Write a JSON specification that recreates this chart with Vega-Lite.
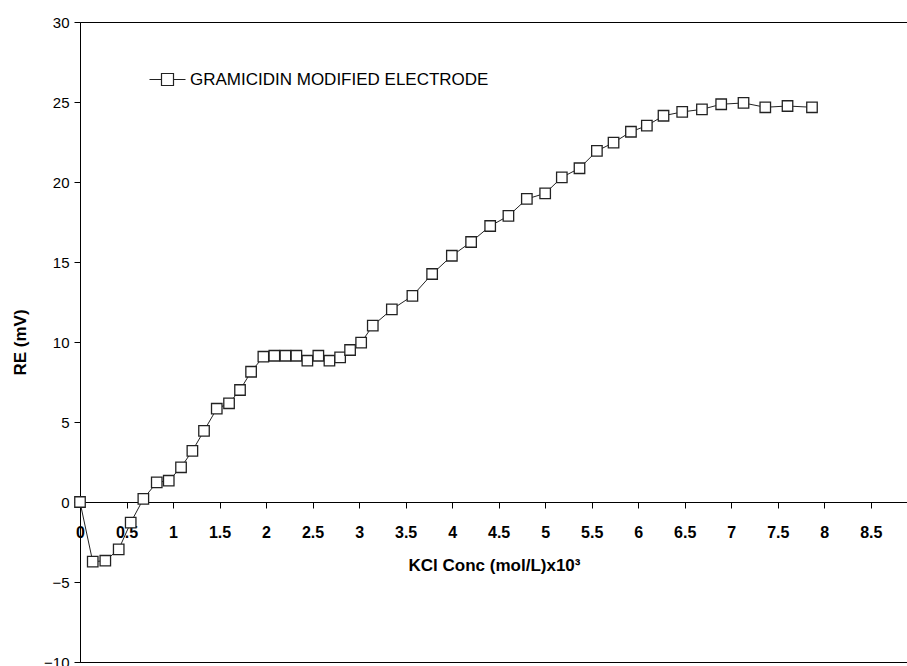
{
  "$schema": "https://vega.github.io/schema/vega-lite/v6.json",
  "autosize": {"type": "none"},
  "padding": {"left": 80, "top": 22, "right": 0, "bottom": 4},
  "width": 828,
  "height": 640,
  "background": "white",
  "config": {
    "font": "Liberation Sans",
    "view": {"stroke": "#000", "strokeWidth": 1},
    "axis": {"domainColor": "#000", "tickColor": "#000", "labelColor": "#000", "titleColor": "#000", "grid": false}
  },
  "data": {"values": [
    {"x": 0, "y": 0, "series": "GRAMICIDIN MODIFIED ELECTRODE"},
    {"x": 0.137, "y": -3.73, "series": "GRAMICIDIN MODIFIED ELECTRODE"},
    {"x": 0.272, "y": -3.67, "series": "GRAMICIDIN MODIFIED ELECTRODE"},
    {"x": 0.416, "y": -2.96, "series": "GRAMICIDIN MODIFIED ELECTRODE"},
    {"x": 0.545, "y": -1.29, "series": "GRAMICIDIN MODIFIED ELECTRODE"},
    {"x": 0.681, "y": 0.19, "series": "GRAMICIDIN MODIFIED ELECTRODE"},
    {"x": 0.825, "y": 1.23, "series": "GRAMICIDIN MODIFIED ELECTRODE"},
    {"x": 0.954, "y": 1.33, "series": "GRAMICIDIN MODIFIED ELECTRODE"},
    {"x": 1.086, "y": 2.17, "series": "GRAMICIDIN MODIFIED ELECTRODE"},
    {"x": 1.208, "y": 3.2, "series": "GRAMICIDIN MODIFIED ELECTRODE"},
    {"x": 1.333, "y": 4.45, "series": "GRAMICIDIN MODIFIED ELECTRODE"},
    {"x": 1.47, "y": 5.83, "series": "GRAMICIDIN MODIFIED ELECTRODE"},
    {"x": 1.602, "y": 6.17, "series": "GRAMICIDIN MODIFIED ELECTRODE"},
    {"x": 1.72, "y": 7.0, "series": "GRAMICIDIN MODIFIED ELECTRODE"},
    {"x": 1.839, "y": 8.14, "series": "GRAMICIDIN MODIFIED ELECTRODE"},
    {"x": 1.971, "y": 9.08, "series": "GRAMICIDIN MODIFIED ELECTRODE"},
    {"x": 2.089, "y": 9.14, "series": "GRAMICIDIN MODIFIED ELECTRODE"},
    {"x": 2.208, "y": 9.14, "series": "GRAMICIDIN MODIFIED ELECTRODE"},
    {"x": 2.326, "y": 9.14, "series": "GRAMICIDIN MODIFIED ELECTRODE"},
    {"x": 2.444, "y": 8.83, "series": "GRAMICIDIN MODIFIED ELECTRODE"},
    {"x": 2.562, "y": 9.14, "series": "GRAMICIDIN MODIFIED ELECTRODE"},
    {"x": 2.681, "y": 8.83, "series": "GRAMICIDIN MODIFIED ELECTRODE"},
    {"x": 2.796, "y": 9.04, "series": "GRAMICIDIN MODIFIED ELECTRODE"},
    {"x": 2.903, "y": 9.5, "series": "GRAMICIDIN MODIFIED ELECTRODE"},
    {"x": 3.022, "y": 9.96, "series": "GRAMICIDIN MODIFIED ELECTRODE"},
    {"x": 3.147, "y": 11.02, "series": "GRAMICIDIN MODIFIED ELECTRODE"},
    {"x": 3.352, "y": 12.04, "series": "GRAMICIDIN MODIFIED ELECTRODE"},
    {"x": 3.573, "y": 12.88, "series": "GRAMICIDIN MODIFIED ELECTRODE"},
    {"x": 3.785, "y": 14.25, "series": "GRAMICIDIN MODIFIED ELECTRODE"},
    {"x": 3.997, "y": 15.39, "series": "GRAMICIDIN MODIFIED ELECTRODE"},
    {"x": 4.204, "y": 16.25, "series": "GRAMICIDIN MODIFIED ELECTRODE"},
    {"x": 4.409, "y": 17.25, "series": "GRAMICIDIN MODIFIED ELECTRODE"},
    {"x": 4.605, "y": 17.88, "series": "GRAMICIDIN MODIFIED ELECTRODE"},
    {"x": 4.803, "y": 18.94, "series": "GRAMICIDIN MODIFIED ELECTRODE"},
    {"x": 5.0, "y": 19.29, "series": "GRAMICIDIN MODIFIED ELECTRODE"},
    {"x": 5.179, "y": 20.29, "series": "GRAMICIDIN MODIFIED ELECTRODE"},
    {"x": 5.369, "y": 20.86, "series": "GRAMICIDIN MODIFIED ELECTRODE"},
    {"x": 5.556, "y": 21.94, "series": "GRAMICIDIN MODIFIED ELECTRODE"},
    {"x": 5.735, "y": 22.46, "series": "GRAMICIDIN MODIFIED ELECTRODE"},
    {"x": 5.922, "y": 23.14, "series": "GRAMICIDIN MODIFIED ELECTRODE"},
    {"x": 6.093, "y": 23.52, "series": "GRAMICIDIN MODIFIED ELECTRODE"},
    {"x": 6.272, "y": 24.14, "series": "GRAMICIDIN MODIFIED ELECTRODE"},
    {"x": 6.473, "y": 24.38, "series": "GRAMICIDIN MODIFIED ELECTRODE"},
    {"x": 6.685, "y": 24.54, "series": "GRAMICIDIN MODIFIED ELECTRODE"},
    {"x": 6.892, "y": 24.86, "series": "GRAMICIDIN MODIFIED ELECTRODE"},
    {"x": 7.132, "y": 24.94, "series": "GRAMICIDIN MODIFIED ELECTRODE"},
    {"x": 7.366, "y": 24.67, "series": "GRAMICIDIN MODIFIED ELECTRODE"},
    {"x": 7.605, "y": 24.75, "series": "GRAMICIDIN MODIFIED ELECTRODE"},
    {"x": 7.868, "y": 24.67, "series": "GRAMICIDIN MODIFIED ELECTRODE"}
  ]},
  "encoding": {
    "x": {
      "field": "x", "type": "quantitative",
      "scale": {"domain": [0, 8.9], "nice": false, "zero": false},
      "axis": {
        "title": "KCl Conc (mol/L)x10³",
        "titleFontSize": 17, "titleFontWeight": "bold", "titlePadding": 17,
        "values": [0, 0.5, 1, 1.5, 2, 2.5, 3, 3.5, 4, 4.5, 5, 5.5, 6, 6.5, 7, 7.5, 8, 8.5],
        "format": "~g",
        "offset": -160,
        "tickSize": 6,
        "labelFontSize": 16, "labelFontWeight": "bold", "labelPadding": 16,
        "labelFlush": false, "labelOverlap": false
      }
    },
    "y": {
      "field": "y", "type": "quantitative",
      "scale": {"domain": [-10, 30], "nice": false, "zero": false},
      "axis": {
        "title": "RE (mV)",
        "titleFontSize": 17, "titleFontWeight": "bold", "titlePadding": 14,
        "values": [-10, -5, 0, 5, 10, 15, 20, 25, 30],
        "tickSize": 6,
        "labelFontSize": 15, "labelFontWeight": "normal", "labelPadding": 5,
        "labelFlush": false, "labelOverlap": false
      }
    }
  },
  "layer": [
    {
      "mark": {"type": "line", "color": "#222", "strokeWidth": 1}
    },
    {
      "mark": {"type": "point", "shape": "square", "size": 110, "filled": true, "fill": "white", "strokeWidth": 1.3, "opacity": 1},
      "encoding": {
        "stroke": {
          "field": "series", "type": "nominal",
          "scale": {"range": ["#222"]},
          "legend": {
            "title": null,
            "orient": "none",
            "legendX": 79,
            "legendY": 49,
            "padding": 0,
            "symbolType": "M-3,0H-1M1,0H3M-1,-1H1V1H-1Z",
            "symbolSize": 144,
            "symbolFillColor": "white",
            "symbolStrokeColor": "#222",
            "symbolStrokeWidth": 1.2,
            "labelFontSize": 17,
            "labelLimit": 0,
            "labelColor": "#000",
            "labelOffset": 14
          }
        }
      }
    }
  ]
}
